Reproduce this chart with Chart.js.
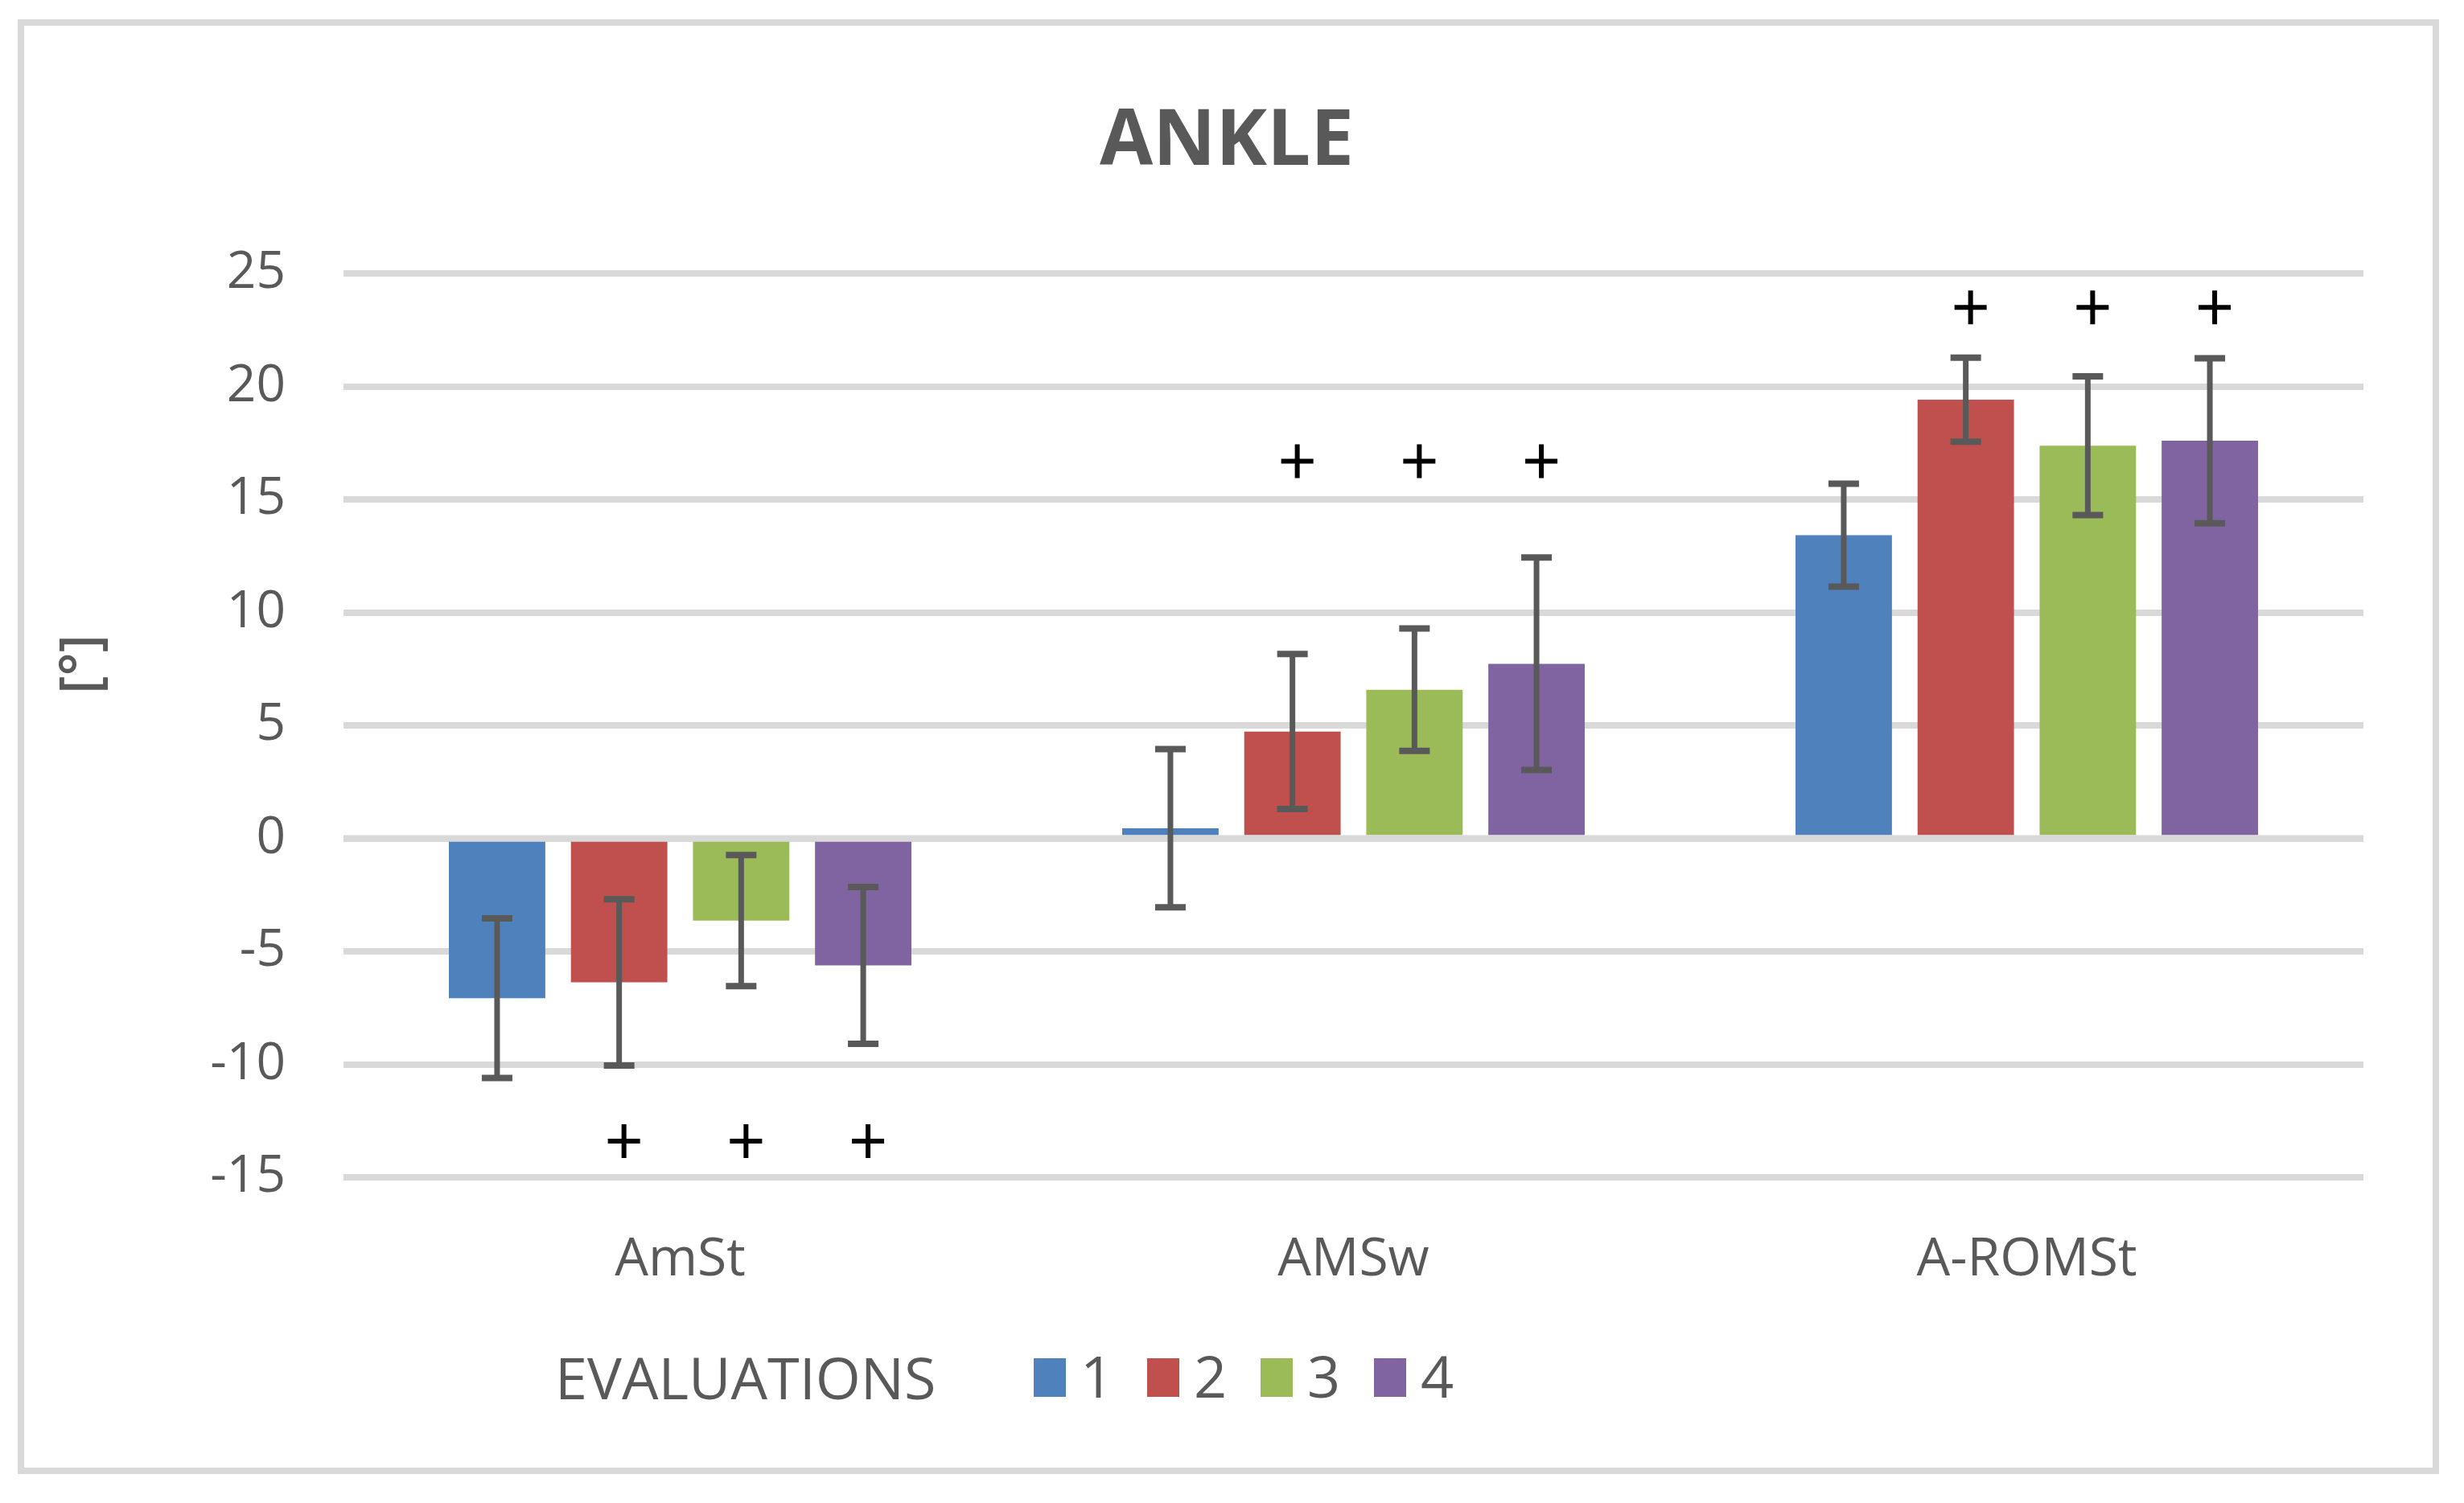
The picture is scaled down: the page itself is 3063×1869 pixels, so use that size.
<!DOCTYPE html>
<html>
<head>
<meta charset="utf-8">
<script src="https://cdn.jsdelivr.net/npm/chart.js"></script>
<style>
    html, body { margin: 0; padding: 0; background: #fff; }
    canvas { display: block; }
</style>
</head>
<body>
<canvas id="ankleChart" width="3063" height="1869"></canvas>
<script>
// Chart data
const categories = ['AmSt', 'AMSw', 'A-ROMSt'];
const evaluations = ['1', '2', '3', '4'];
const colors = ['#4F81BD', '#C0504D', '#9BBB59', '#8064A2'];

// mean values per evaluation
const eval1 = [-7.07, 0.45, 13.42];
const eval2 = [-6.37, 4.73, 19.42];
const eval3 = [-3.64, 6.58, 17.38];
const eval4 = [-5.62, 7.73, 17.6];

// standard deviations (error bars)
const sd1 = [3.53, 3.5, 2.28];
const sd2 = [3.68, 3.43, 1.86];
const sd3 = [2.9, 2.71, 3.07];
const sd4 = [3.47, 4.7, 3.65];

// "+" significance marks: height per category, which evaluations get one
const plusY = [-13.4, 16.7, 23.5];
const plusEval = [false, true, true, true];

// y axis ticks
const yMin = -15;
const yMax = 25;
const yStep = 5;

const textColor = '#595959';
const gridColor = '#D9D9D9';
const fontFamily = "'Open Sans', sans-serif";

const means = [eval1, eval2, eval3, eval4];
const sds = [sd1, sd2, sd3, sd4];

// white page + light grey frame
const framePlugin = {
    id: 'frame',
    beforeDraw(chart) {
        const ctx = chart.ctx;
        ctx.save();
        ctx.fillStyle = '#fff';
        ctx.fillRect(0, 0, chart.width, chart.height);
        ctx.strokeStyle = gridColor;
        ctx.lineWidth = 8;
        ctx.strokeRect(26, 28, 3002, 1801);
        ctx.restore();
    }
};

// zero line, error bars and "+" marks over the bars
const errorBarPlugin = {
    id: 'errorBars',
    afterDatasetsDraw(chart) {
        const ctx = chart.ctx;
        const y = chart.scales.y;
        const area = chart.chartArea;
        ctx.save();

        const y0 = y.getPixelForValue(0);
        ctx.strokeStyle = gridColor;
        ctx.lineWidth = 8;
        ctx.beginPath();
        ctx.moveTo(area.left, y0);
        ctx.lineTo(area.right, y0);
        ctx.stroke();

        ctx.strokeStyle = textColor;
        chart.data.datasets.forEach((ds, i) => {
            const meta = chart.getDatasetMeta(i);
            meta.data.forEach((bar, j) => {
                const top = y.getPixelForValue(ds.data[j] + ds.sd[j]);
                const bot = y.getPixelForValue(ds.data[j] - ds.sd[j]);
                ctx.lineWidth = 7;
                ctx.beginPath();
                ctx.moveTo(bar.x, top);
                ctx.lineTo(bar.x, bot);
                ctx.stroke();
                ctx.lineWidth = 8;
                ctx.beginPath();
                ctx.moveTo(bar.x - 19, top);
                ctx.lineTo(bar.x + 19, top);
                ctx.moveTo(bar.x - 19, bot);
                ctx.lineTo(bar.x + 19, bot);
                ctx.stroke();
            });
        });

        ctx.strokeStyle = '#000';
        ctx.lineWidth = 6;
        chart.data.datasets.forEach((ds, i) => {
            if (!plusEval[i]) return;
            const meta = chart.getDatasetMeta(i);
            meta.data.forEach((bar, j) => {
                const px = bar.x + 6;
                const py = y.getPixelForValue(plusY[j]);
                ctx.beginPath();
                ctx.moveTo(px - 20, py);
                ctx.lineTo(px + 20, py);
                ctx.moveTo(px, py - 21);
                ctx.lineTo(px, py + 21);
                ctx.stroke();
            });
        });
        ctx.restore();
    }
};

// y axis title and the "EVALUATIONS" legend row
const labelsPlugin = {
    id: 'labels',
    afterDraw(chart) {
        const ctx = chart.ctx;
        ctx.save();
        ctx.fillStyle = textColor;

        ctx.save();
        ctx.font = '600 68px ' + fontFamily;
        ctx.translate(104, 826);
        ctx.rotate(-Math.PI / 2);
        ctx.textAlign = 'center';
        ctx.textBaseline = 'middle';
        ctx.fillText('[°]', 0, 0);
        ctx.restore();

        ctx.font = '72px ' + fontFamily;
        ctx.textAlign = 'left';
        ctx.textBaseline = 'alphabetic';
        ctx.fillText('EVALUATIONS', 690, 1740);

        chart.data.datasets.forEach((ds, i) => {
            const bx = 1285 + i * 141;
            ctx.fillStyle = ds.backgroundColor;
            ctx.fillRect(bx, 1689, 40, 48);
            ctx.fillStyle = textColor;
            ctx.fillText(ds.label, bx + 58, 1738);
        });
        ctx.restore();
    }
};

const datasets = evaluations.map((label, i) => ({
    label: label,
    data: means[i],
    sd: sds[i],
    backgroundColor: colors[i],
    borderWidth: 0,
    categoryPercentage: 0.725,
    barPercentage: 0.79
}));

const ctx = document.getElementById('ankleChart').getContext('2d');
window.ankleChart = new Chart(ctx, {
    type: 'bar',
    data: {
        labels: categories,
        datasets: datasets
    },
    options: {
        responsive: false,
        devicePixelRatio: 1,
        animation: false,
        layout: {
            padding: { left: 112, right: 125, top: 30, bottom: 259 }
        },
        plugins: {
            legend: { display: false },
            tooltip: { enabled: false },
            title: {
                display: true,
                text: 'ANKLE',
                color: textColor,
                font: { family: fontFamily, size: 96, weight: 'bold' },
                padding: { top: 90, bottom: 105 }
            }
        },
        scales: {
            x: {
                grid: { display: false, drawTicks: false },
                border: { display: false },
                ticks: {
                    color: textColor,
                    font: { family: fontFamily, size: 66 },
                    padding: 64
                },
                afterFit: (scale) => { scale.height = 146; }
            },
            y: {
                min: yMin,
                max: yMax,
                ticks: {
                    stepSize: yStep,
                    color: textColor,
                    font: { family: fontFamily, size: 64 },
                    padding: 72
                },
                grid: { color: gridColor, lineWidth: 8, drawTicks: false },
                border: { display: false },
                afterFit: (scale) => { scale.width = 315; }
            }
        }
    },
    plugins: [framePlugin, errorBarPlugin, labelsPlugin]
});
</script>
</body>
</html>
